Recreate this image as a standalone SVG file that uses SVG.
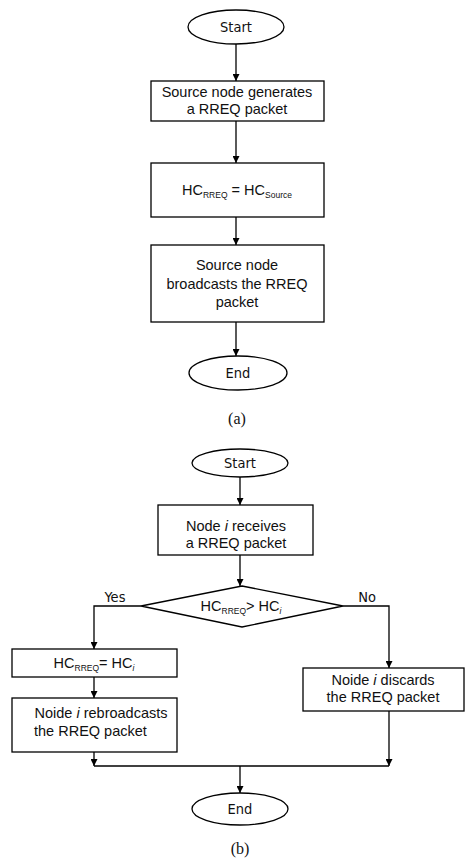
<svg xmlns="http://www.w3.org/2000/svg" width="465" height="863" viewBox="0 0 465 863">
<defs>
<marker id="ah" viewBox="0 0 10 10" refX="10" refY="5" markerWidth="7" markerHeight="7" orient="auto" markerUnits="userSpaceOnUse">
<path d="M0,0 L10,5 L0,10 z" fill="#000"/>
</marker>
</defs>
<style>
.s{fill:#fff;stroke:#000;stroke-width:1.3}
.t{font-family:"Liberation Sans",Arial,sans-serif;font-size:14.5px;fill:#111;text-anchor:middle}
.tt{font-family:"DejaVu Sans Condensed","DejaVu Sans",sans-serif;font-size:14.5px;fill:#111;text-anchor:middle}
.sub{font-size:8.5px}
.cap{font-family:"Liberation Serif","Times New Roman",serif;font-size:16px;fill:#111;text-anchor:middle}
.c{fill:none;stroke:#000;stroke-width:1.3}
.ca{fill:none;stroke:#000;stroke-width:1.3;marker-end:url(#ah)}
</style>
<rect width="465" height="863" fill="#fff"/>

<g id="connectors">
<line class="ca" x1="236" y1="44" x2="236" y2="81"/>
<line class="ca" x1="236" y1="121" x2="236" y2="163"/>
<line class="ca" x1="236" y1="217" x2="236" y2="245"/>
<line class="ca" x1="236" y1="322" x2="236" y2="356"/>
<line class="ca" x1="240" y1="477" x2="240" y2="505"/>
<line class="ca" x1="240" y1="555" x2="240" y2="586"/>
<polyline class="ca" points="141,606 94,606 94,649"/>
<polyline class="ca" points="343,606 389,606 389,668"/>
<line class="ca" x1="94" y1="677" x2="94" y2="698"/>
<line class="ca" x1="94" y1="752" x2="94" y2="766"/>
<line class="ca" x1="389" y1="711" x2="389" y2="766"/>
<line class="c" x1="94" y1="766" x2="389" y2="766"/>
<line class="ca" x1="240" y1="766" x2="240" y2="793"/>
</g>

<g id="a_start">
<ellipse class="s" cx="236" cy="27" rx="48" ry="17"/>
<text class="tt" x="236" y="32">Start</text>
</g>
<g id="a_generate">
<rect class="s" x="151" y="81" width="173" height="40"/>
<text class="t" x="237" y="97">Source node generates</text>
<text class="t" x="237" y="114">a RREQ packet</text>
</g>
<g id="a_assign">
<rect class="s" x="151" y="163" width="173" height="54"/>
<text class="t" x="237" y="195">HC<tspan class="sub" dy="3">RREQ</tspan><tspan dy="-3"> = HC</tspan><tspan class="sub" dy="3">Source</tspan></text>
</g>
<g id="a_broadcast">
<rect class="s" x="151" y="245" width="173" height="77"/>
<text class="t" x="237" y="270">Source node</text>
<text class="t" x="237" y="289">broadcasts the RREQ</text>
<text class="t" x="237" y="307">packet</text>
</g>
<g id="a_end">
<ellipse class="s" cx="238" cy="373" rx="49" ry="17"/>
<text class="tt" x="238" y="378">End</text>
</g>
<text class="cap" x="237" y="424">(a)</text>

<g id="b_start">
<ellipse class="s" cx="240" cy="463" rx="48" ry="14"/>
<text class="tt" x="240" y="468">Start</text>
</g>
<g id="b_receive">
<rect class="s" x="158" y="505" width="155" height="50"/>
<text class="t" x="236" y="531">Node <tspan font-style="italic">i</tspan> receives</text>
<text class="t" x="236" y="548">a RREQ packet</text>
</g>
<g id="b_decision">
<polygon class="s" points="242,586 343,606 242,627 141,606"/>
<text class="t" x="241" y="611">HC<tspan class="sub" dy="3">RREQ</tspan><tspan dy="-3">&gt; HC</tspan><tspan class="sub" dy="3" font-style="italic">i</tspan></text>
</g>
<text class="tt" x="115" y="602">Yes</text>
<text class="tt" x="367" y="602">No</text>
<g id="b_assign">
<rect class="s" x="12" y="649" width="165" height="28"/>
<text class="t" x="94" y="668">HC<tspan class="sub" dy="3">RREQ</tspan><tspan dy="-3">= HC</tspan><tspan class="sub" dy="3" font-style="italic">i</tspan></text>
</g>
<g id="b_rebroadcast">
<rect class="s" x="12" y="698" width="165" height="54"/>
<text class="t" x="101" y="718">Noide <tspan font-style="italic">i</tspan> rebroadcasts</text>
<text x="34" y="736" class="t" style="text-anchor:start">the RREQ packet</text>
</g>
<g id="b_discard">
<rect class="s" x="303" y="668" width="161" height="43"/>
<text class="t" x="383" y="685">Noide <tspan font-style="italic">i</tspan> discards</text>
<text class="t" x="383" y="702">the RREQ packet</text>
</g>
<g id="b_end">
<ellipse class="s" cx="240" cy="809" rx="48" ry="16"/>
<text class="tt" x="240" y="814">End</text>
</g>
<text class="cap" x="240" y="854">(b)</text>
</svg>
